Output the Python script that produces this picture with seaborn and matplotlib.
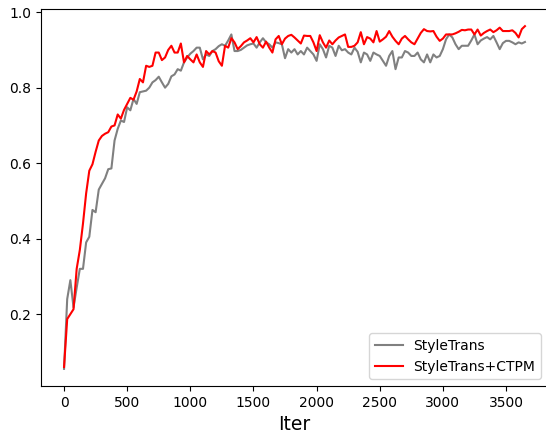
import numpy as np
import pandas as pd
import matplotlib
matplotlib.use("Agg")
import matplotlib.pyplot as plt
import seaborn as sns

# Evaluation every 25 iterations
iters = list(range(0, 3675, 25))

style_trans = [
    0.055, 0.24, 0.29, 0.218, 0.27, 0.32, 0.32, 0.39, 0.405, 0.476,
    0.47, 0.53, 0.545, 0.56, 0.584, 0.586, 0.66, 0.691, 0.713, 0.709,
    0.748, 0.74, 0.77, 0.757, 0.788, 0.79, 0.792, 0.80, 0.814, 0.82,
    0.829, 0.814, 0.80, 0.81, 0.83, 0.835, 0.849, 0.845, 0.867, 0.88,
    0.89, 0.897, 0.906, 0.906, 0.875, 0.888, 0.884, 0.897, 0.902, 0.91,
    0.915, 0.911, 0.925, 0.941, 0.897, 0.897, 0.90, 0.906, 0.912, 0.915,
    0.917, 0.906, 0.92, 0.931, 0.92, 0.915, 0.906, 0.92, 0.918, 0.915,
    0.878, 0.902, 0.893, 0.902, 0.888, 0.897, 0.888, 0.906, 0.897, 0.888,
    0.871, 0.915, 0.902, 0.88, 0.911, 0.906, 0.884, 0.911, 0.899, 0.902,
    0.893, 0.888, 0.906, 0.895, 0.867, 0.893, 0.888, 0.871, 0.893, 0.888,
    0.884, 0.871, 0.858, 0.884, 0.897, 0.849, 0.88, 0.88, 0.897, 0.893,
    0.884, 0.884, 0.893, 0.875, 0.867, 0.888, 0.867, 0.888, 0.88, 0.884,
    0.902, 0.928, 0.941, 0.933, 0.915, 0.902, 0.911, 0.911, 0.911, 0.925,
    0.941, 0.915, 0.925, 0.93, 0.934, 0.928, 0.937, 0.92, 0.902, 0.918,
    0.924, 0.924, 0.92, 0.915, 0.92, 0.917, 0.921,
]

style_trans_ctpm = [
    0.060, 0.187, 0.200, 0.213, 0.32, 0.37, 0.44, 0.52, 0.58, 0.597,
    0.63, 0.66, 0.672, 0.678, 0.682, 0.697, 0.70, 0.729, 0.718, 0.741,
    0.757, 0.773, 0.768, 0.79, 0.823, 0.814, 0.858, 0.855, 0.858, 0.893,
    0.893, 0.873, 0.88, 0.90, 0.911, 0.893, 0.893, 0.917, 0.867, 0.884,
    0.875, 0.867, 0.888, 0.867, 0.855, 0.897, 0.888, 0.897, 0.893, 0.87,
    0.858, 0.911, 0.906, 0.931, 0.92, 0.902, 0.91, 0.92, 0.925, 0.931,
    0.92, 0.934, 0.915, 0.906, 0.922, 0.906, 0.893, 0.928, 0.937, 0.915,
    0.93, 0.937, 0.94, 0.933, 0.925, 0.917, 0.938, 0.937, 0.937, 0.92,
    0.897, 0.939, 0.92, 0.906, 0.925, 0.915, 0.925, 0.933, 0.937, 0.941,
    0.908, 0.908, 0.911, 0.92, 0.947, 0.915, 0.934, 0.93, 0.92, 0.95,
    0.922, 0.928, 0.935, 0.95, 0.935, 0.924, 0.915, 0.93, 0.937, 0.928,
    0.92, 0.915, 0.93, 0.945, 0.955, 0.95, 0.949, 0.95, 0.935, 0.924,
    0.93, 0.941, 0.941, 0.941, 0.944, 0.948, 0.953, 0.952, 0.954, 0.954,
    0.941, 0.954, 0.938, 0.945, 0.95, 0.954, 0.947, 0.952, 0.959, 0.95,
    0.95, 0.95, 0.952, 0.945, 0.933, 0.955, 0.963,
]

labels = ["StyleTrans", "StyleTrans+CTPM"]
colors = ["gray", "red"]

fig = plt.figure(figsize=(5.46, 4.36), dpi=100)
ax = fig.add_axes([41 / 546, 50 / 436, 507 / 546, 377 / 436])

for vals, lab, col in zip([style_trans, style_trans_ctpm], labels, colors):
    df = pd.DataFrame({"Iter": iters, "value": vals})
    sns.lineplot(data=df, x="Iter", y="value", ax=ax, color=col, label=lab,
                 linewidth=1.5)

ax.set_xlim(-182.5, 3832.5)
ax.spines["right"].set_visible(False)
ax.set_xticks([0, 500, 1000, 1500, 2000, 2500, 3000, 3500])
ax.set_yticks([0.2, 0.4, 0.6, 0.8, 1.0])
ax.set_xlabel("Iter", fontsize=13.5)
ax.set_ylabel("")
ax.legend(loc="lower right", fontsize=10)

fig.savefig("out.png", dpi=100)
